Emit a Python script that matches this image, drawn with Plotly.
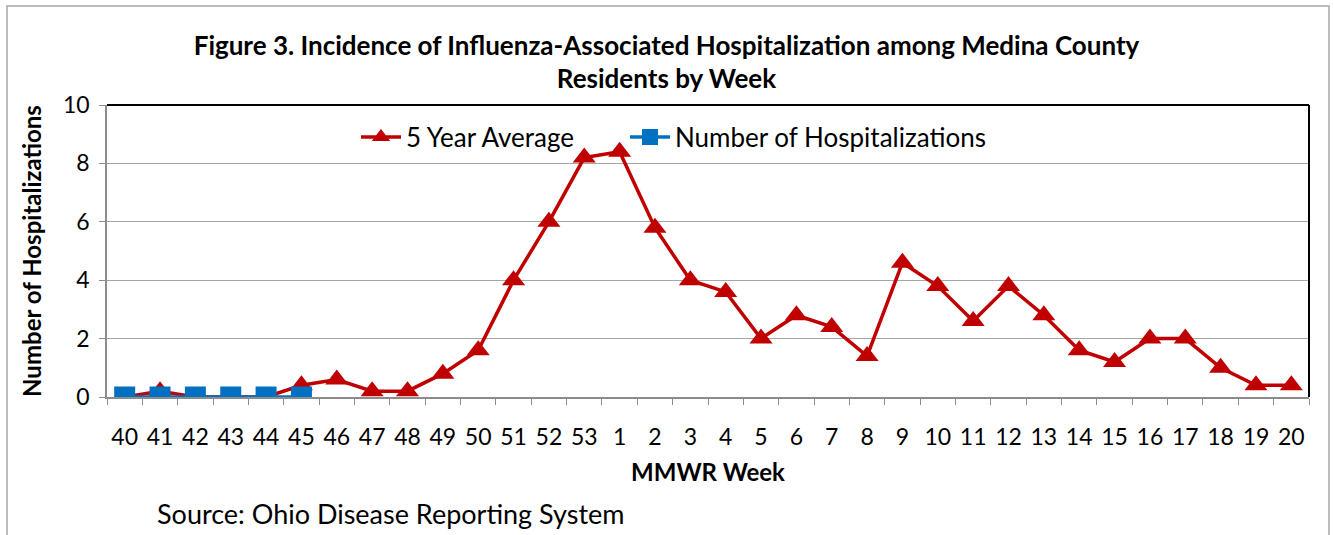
import plotly.graph_objects as go

weeks = ["40","41","42","43","44","45","46","47","48","49","50","51","52","53",
         "1","2","3","4","5","6","7","8","9","10","11","12","13","14","15","16","17","18","19","20"]
five_year_avg = [0, 0.2, 0, 0, 0, 0.4, 0.6, 0.2, 0.2, 0.8, 1.6, 4, 6, 8.2,
                 8.4, 5.8, 4, 3.6, 2, 2.8, 2.4, 1.4, 4.6, 3.8, 2.6, 3.8, 2.8, 1.6, 1.2, 2, 2, 1, 0.4, 0.4]
hosp_weeks = ["40","41","42","43","44","45"]
hospitalizations = [0, 0, 0, 0, 0, 0]

FONT = "Lato"
W, H = 1333, 535
L, R, T, B = 107, 24, 105, 138
pw, ph = W - L - R, H - T - B

def px_x(px):
    return (px - L) / pw

def px_y(py):
    return (H - B - py) / ph

fig = go.Figure()
fig.add_trace(go.Scatter(
    x=weeks, y=five_year_avg, name="5 Year Average", mode="lines+markers",
    line=dict(color="#C00000", width=3.5),
    marker=dict(symbol="triangle-up", size=20, color="#C00000"),
    legend="legend",
))
fig.add_trace(go.Scatter(
    x=hosp_weeks, y=hospitalizations, name="Number of Hospitalizations", mode="lines+markers",
    line=dict(color="#0070C0", width=3.5),
    marker=dict(symbol="square", size=21, color="#0070C0"),
    legend="legend2",
))

leg_common = dict(orientation="h", yanchor="middle", xanchor="left",
                  font=dict(size=26, family=FONT), bgcolor="rgba(0,0,0,0)", itemwidth=40)

fig.update_layout(
    width=W, height=H,
    margin=dict(l=L, r=R, t=T, b=B, autoexpand=False),
    paper_bgcolor="white", plot_bgcolor="white",
    font=dict(family=FONT, color="black"),
    title=dict(text="<b>Figure 3. Incidence of Influenza-Associated Hospitalization among Medina County<br>Residents by Week</b>",
               x=0.5, xanchor="center", xref="container", yref="container",
               y=1 - 54.5 / H, yanchor="middle",
               font=dict(size=26, family=FONT, color="black")),
    showlegend=True,
    legend=dict(x=px_x(356), y=px_y(137), **leg_common),
    legend2=dict(x=px_x(625), y=px_y(137), **leg_common),
    xaxis=dict(type="category", categoryorder="array", categoryarray=weeks, automargin=False,
               showgrid=False, showline=True, linecolor="#8c8c8c", linewidth=1.5,
               ticks="outside", tickson="boundaries", ticklen=6, tickcolor="#8c8c8c",
               tickangle=0,
               tickfont=dict(size=23, family=FONT), ticklabelstandoff=19,
               range=[-0.5, len(weeks) - 0.5],
               title=dict(text="<b>MMWR Week</b>", font=dict(size=24, family=FONT), standoff=15)),
    yaxis=dict(range=[0, 10], dtick=2, showgrid=True, gridcolor="#a6a6a6", gridwidth=1.3,
               automargin=False,
               showline=True, linecolor="#8c8c8c", linewidth=1.5, zeroline=False,
               ticks="outside", ticklen=6, tickcolor="#8c8c8c",
               tickfont=dict(size=23, family=FONT), ticklabelstandoff=5,
               title=dict(text="<b>Number of Hospitalizations</b>", font=dict(size=24, family=FONT), standoff=15)),
)

# plot frame top/right in black
fig.add_shape(type="line", xref="paper", yref="paper", x0=0, x1=1, y0=1, y1=1,
              line=dict(color="black", width=2))
fig.add_shape(type="line", xref="paper", yref="paper", x0=1, x1=1, y0=0, y1=1,
              line=dict(color="black", width=2))
# outer chart border
fig.add_shape(type="rect", xref="paper", yref="paper",
              x0=px_x(7), x1=px_x(1329), y0=px_y(545), y1=px_y(6),
              line=dict(color="#a6a6a6", width=1.5), layer="below")

fig.add_annotation(text="Source: Ohio Disease Reporting System", xref="paper", yref="paper",
                   x=px_x(155), y=px_y(513), xanchor="left", yanchor="middle",
                   showarrow=False, font=dict(size=27, family=FONT, color="black"))

fig.write_html("out.html", config={"displayModeBar": False},
               post_script="document.body.style.margin='0';document.body.style.overflow='hidden';")
